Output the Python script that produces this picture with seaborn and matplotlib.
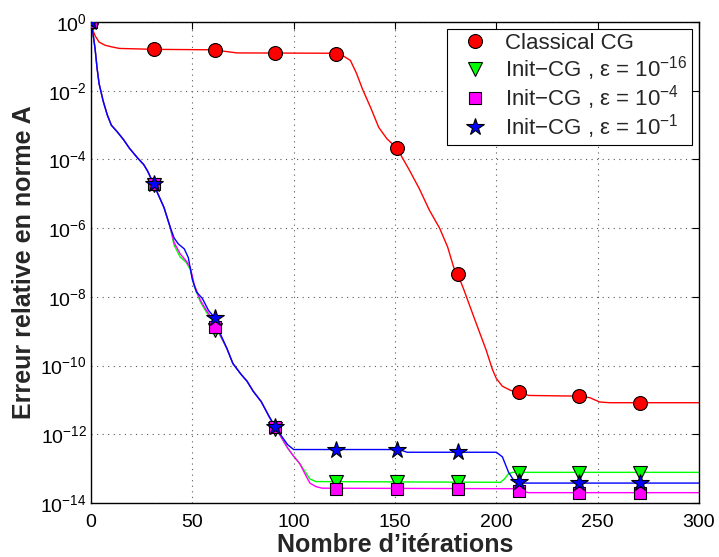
import matplotlib
matplotlib.use("Agg")
import matplotlib.pyplot as plt
import numpy as np
import pandas as pd
import seaborn as sns
from matplotlib.ticker import FixedLocator, LogFormatterSciNotation

# ---------------- data ----------------
series_names = ["Classical CG",
                "Init\u2212CG , \u03b5 = $10^{-16}$",
                "Init\u2212CG , \u03b5 = $10^{-4}$",
                "Init\u2212CG , \u03b5 = $10^{-1}$"]

# Continuous curves (iteration, relative A-norm error)
cg_iter = [0, 1, 2, 4, 7, 10, 14, 31, 61, 66, 72, 121, 124, 128, 131, 134, 138, 142,
           146, 151, 157, 162, 167, 172, 176, 179, 181, 184, 189, 195, 198, 200, 203,
           207, 211, 216, 240, 246, 251, 256, 300]
cg_err = [1.0, 0.56, 0.40, 0.26, 0.21, 0.19, 0.17, 0.16, 0.155, 0.14, 0.126, 0.123,
          0.107, 0.076, 0.032, 0.011, 3.2e-3, 8.5e-4, 4.0e-4, 2.1e-4, 5.0e-5, 1.4e-5,
          3.3e-6, 1.0e-6, 2.8e-7, 7.1e-8, 4.5e-8, 1.6e-8, 2.5e-9, 2.8e-10, 7.9e-11,
          4.2e-11, 2.5e-11, 1.9e-11, 1.66e-11, 1.35e-11, 1.29e-11, 1.17e-11, 8.7e-12,
          8.3e-12, 8.3e-12]

e16_iter = [0, 1, 2, 3, 4, 6, 8, 10, 13, 16, 19, 23, 26, 28, 31, 33, 36, 39, 41, 44,
            47, 49, 51, 54, 57, 60, 63, 67, 70, 74, 77, 80, 84, 88, 91, 94, 97, 100,
            103, 106, 108, 111, 202, 204, 206, 208, 300]
e16_err = [1.0, 0.45, 0.17, 0.045, 0.016, 5.0e-3, 2.0e-3, 1.0e-3, 6.3e-4, 3.8e-4,
           2.1e-4, 1.1e-4, 7.1e-5, 4.5e-5, 1.86e-5, 1.0e-5, 4.0e-6, 1.1e-6, 3.2e-7,
           1.45e-7, 1.0e-7, 6.3e-8, 2.0e-8, 7.1e-9, 3.5e-9, 2.0e-9, 8.9e-10, 3.2e-10,
           1.15e-10, 5.6e-11, 3.5e-11, 1.8e-11, 8.9e-12, 3.2e-12, 1.6e-12, 7.9e-13,
           4.0e-13, 2.3e-13, 1.4e-13, 7.6e-14, 5.0e-14, 4.2e-14, 4.0e-14, 5.0e-14,
           7.1e-14, 7.8e-14, 7.8e-14]

e4_iter = [0, 1, 2, 3, 4, 6, 8, 10, 13, 16, 19, 23, 26, 28, 31, 33, 36, 39, 41, 44,
           47, 49, 51, 54, 57, 60, 63, 67, 70, 74, 77, 80, 84, 88, 91, 94, 97, 100,
           103, 106, 108, 111, 114, 211, 213, 216, 300]
e4_err = [1.0, 0.45, 0.17, 0.045, 0.016, 5.0e-3, 2.0e-3, 1.0e-3, 6.3e-4, 3.8e-4,
          2.1e-4, 1.1e-4, 7.1e-5, 4.5e-5, 1.86e-5, 1.0e-5, 4.0e-6, 1.1e-6, 3.8e-7,
          1.8e-7, 1.1e-7, 7.1e-8, 2.2e-8, 7.9e-9, 4.0e-9, 2.2e-9, 9.5e-10, 3.2e-10,
          1.15e-10, 5.6e-11, 3.5e-11, 1.8e-11, 8.9e-12, 3.2e-12, 1.6e-12, 7.9e-13,
          4.0e-13, 2.3e-13, 1.4e-13, 6.3e-14, 3.8e-14, 3.0e-14, 2.7e-14, 2.6e-14,
          2.2e-14, 2.0e-14, 2.0e-14]

e1_iter = [0, 1, 2, 3, 4, 6, 8, 10, 13, 16, 19, 23, 26, 28, 31, 33, 36, 39, 41, 43,
           46, 48, 50, 52, 55, 58, 61, 64, 67, 70, 74, 77, 80, 84, 88, 91, 94, 97,
           100, 152, 156, 200, 203, 206, 209, 212, 300]
e1_err = [1.0, 0.45, 0.17, 0.045, 0.016, 5.0e-3, 2.0e-3, 1.0e-3, 6.3e-4, 3.8e-4,
          2.1e-4, 1.1e-4, 7.1e-5, 4.5e-5, 1.86e-5, 1.0e-5, 4.0e-6, 1.1e-6, 5.2e-7,
          3.5e-7, 2.5e-7, 1.4e-7, 3.2e-8, 1.4e-8, 8.9e-9, 4.0e-9, 2.5e-9, 7.9e-10,
          3.2e-10, 1.15e-10, 5.6e-11, 3.5e-11, 1.8e-11, 8.9e-12, 3.2e-12, 1.6e-12,
          8.9e-13, 5.0e-13, 3.6e-13, 3.6e-13, 3.0e-13, 3.0e-13, 2.2e-13, 7.9e-14,
          4.2e-14, 3.8e-14, 3.8e-14]

# Marker positions (every 30 iterations)
mk_iter = [0, 31, 61, 91, 121, 151, 181, 211, 241, 271]
cg_mk = [1.0, 0.16, 0.15, 0.123, 0.118, 2.2e-4, 4.5e-8, 1.7e-11, 1.29e-11, 8.2e-12]
e16_mk = [1.0, 1.8e-5, 1.1e-9, 1.4e-12, 4.2e-14, 4.2e-14, 4.2e-14, 7.6e-14, 7.6e-14, 7.6e-14]
e4_mk = [1.0, 1.9e-5, 1.3e-9, 1.6e-12, 2.6e-14, 2.6e-14, 2.6e-14, 2.3e-14, 2.0e-14, 2.0e-14]
e1_mk = [1.0, 1.9e-5, 2.5e-9, 1.6e-12, 3.6e-13, 3.4e-13, 3.0e-13, 4.0e-14, 3.8e-14, 3.8e-14]

# ---------------- styling ----------------
colors = ["#ff0000", "#00ff00", "#ff00ff", "#0000ff"]
markers = ["o", "v", "s", "*"]
msizes = [10, 10, 8, 13]

sns.set_style("white")
plt.rcParams["font.family"] = ["Liberation Sans", "DejaVu Sans"]
plt.rcParams["mathtext.fontset"] = "custom"
plt.rcParams["mathtext.rm"] = "Liberation Sans"
plt.rcParams["mathtext.it"] = "Liberation Sans:italic"
plt.rcParams["mathtext.bf"] = "Liberation Sans:bold"
plt.rcParams["mathtext.default"] = "regular"

fig = plt.figure(figsize=(7.19, 5.57), dpi=100)
ax = fig.add_axes([91 / 719, 1 - 503 / 557, (699 - 91) / 719, (503 - 22) / 557])

lines = [(cg_iter, cg_err), (e16_iter, e16_err), (e4_iter, e4_err), (e1_iter, e1_err)]
frames = []
for name, (xi, yi) in zip(series_names, lines):
    frames.append(pd.DataFrame({"iter": xi, "err": yi, "series": name}))
df = pd.concat(frames, ignore_index=True)

sns.lineplot(data=df, x="iter", y="err", hue="series", hue_order=series_names,
             palette=colors, estimator=None, sort=False, linewidth=1.0,
             legend=False, ax=ax)

handles = []
for name, ys, c, m, s in zip(series_names, [cg_mk, e16_mk, e4_mk, e1_mk],
                             colors, markers, msizes):
    h, = ax.plot(mk_iter, ys, linestyle="none", marker=m, markersize=s,
                 markerfacecolor=c, markeredgecolor="black", markeredgewidth=0.8,
                 label=name, zorder=3)
    handles.append(h)

ax.set_yscale("log")
ax.set_xlim(0, 300)
ax.set_ylim(1e-14, 1)
ax.xaxis.set_major_locator(FixedLocator([0, 50, 100, 150, 200, 250, 300]))
ax.yaxis.set_major_locator(FixedLocator([10.0 ** k for k in range(-14, 1, 2)]))
ax.yaxis.set_major_formatter(LogFormatterSciNotation())
ax.yaxis.set_minor_locator(FixedLocator([]))

ax.grid(True, which="major", linestyle=(0, (1, 4)), color="0.35", linewidth=0.8)
ax.tick_params(axis="both", which="major", direction="in", length=5, width=0.8,
               top=True, right=True, labelsize=14, colors="black")
ax.tick_params(axis="y", pad=3)
ax.tick_params(axis="x", pad=8)
for sp in ax.spines.values():
    sp.set_color("black")
    sp.set_linewidth(1.0)

ax.set_xlabel("Nombre d\u2019it\u00e9rations", fontsize=18, fontweight="bold", labelpad=1)
ax.set_ylabel("Erreur relative en norme A", fontsize=18, fontweight="bold", labelpad=3)

leg = ax.legend(handles=handles, loc="upper right", numpoints=1, fontsize=16,
                frameon=True, fancybox=False, edgecolor="black", framealpha=1,
                borderaxespad=0.3, handlelength=2.15, handletextpad=0.28,
                labelspacing=0.0, borderpad=0.2)
leg.get_frame().set_linewidth(0.8)

fig.savefig("out.png", dpi=100)
